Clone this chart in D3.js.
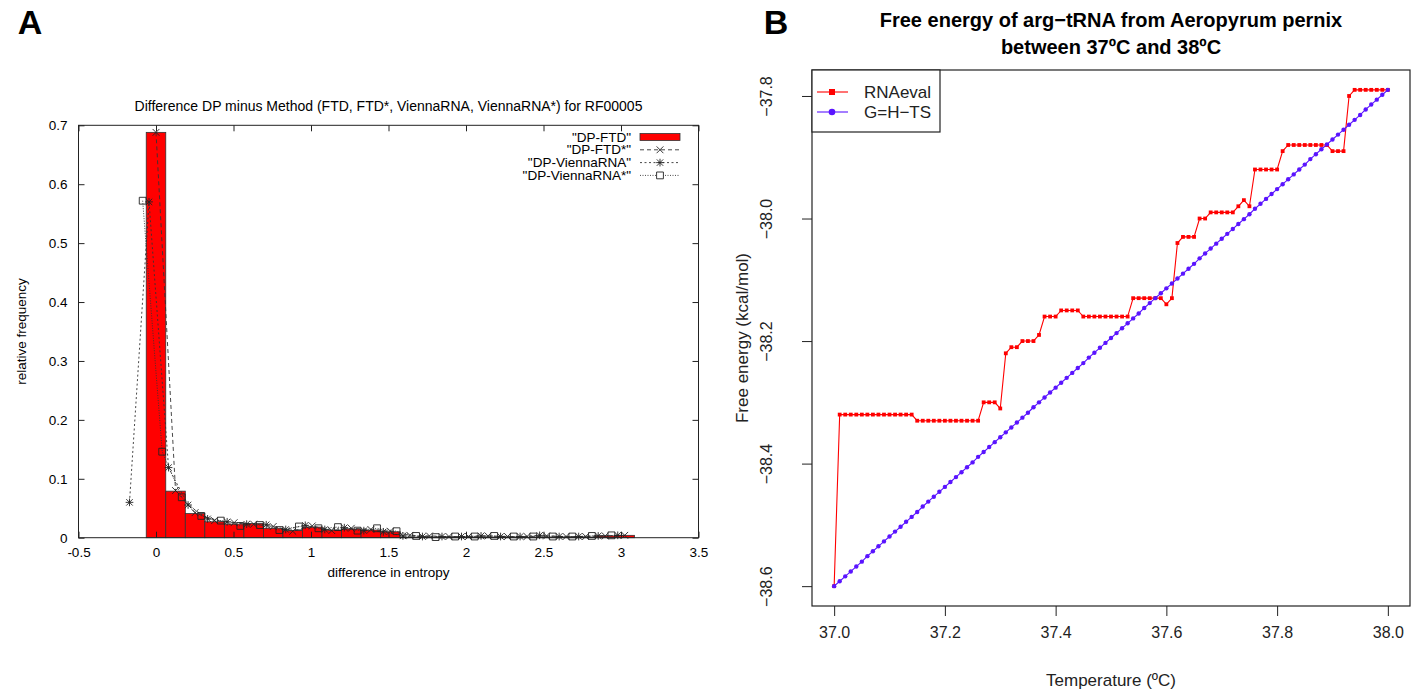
<!DOCTYPE html>
<html>
<head>
<meta charset="utf-8">
<script src="https://cdn.jsdelivr.net/npm/d3@7"></script>
<style>
  body { margin: 0; background: #fff; }
  svg { display: block; font-family: "Liberation Sans", Arial, Helvetica, sans-serif; }
</style>
</head>
<body>
<svg id="fig" width="1417" height="690"></svg>
<script>
// ---------- Panel A: entropy difference histogram (RF00005) ----------
const binWidth = 0.126;
const ftdBins = [0.000, 0.126, 0.252, 0.378, 0.504, 0.630, 0.756, 0.882, 1.008, 1.134, 1.260, 1.386, 1.512,
                 1.638, 1.764, 1.890, 2.016, 2.142, 2.268, 2.394, 2.520, 2.646, 2.772, 2.898, 3.024];
const ftdFreq = [0.688, 0.079, 0.041, 0.027, 0.023, 0.024, 0.016, 0.012, 0.018, 0.013, 0.0147, 0.013, 0.010,
                 0.001, 0.001, 0.001, 0.001, 0.001, 0.001, 0.001, 0.001, 0.001, 0.001, 0.003, 0.004];

const ftdStarX = ftdBins;
const ftdStarFreq = [0.688, 0.080, 0.0425, 0.029, 0.0255, 0.023, 0.019, 0.011, 0.020, 0.012, 0.016, 0.014, 0.011,
                     0.004, 0.003, 0.002, 0.002, 0.003, 0.002, 0.002, 0.003, 0.002, 0.002, 0.003, 0.004];

const viennaX = [-0.171, -0.045, 0.081, 0.207, 0.333, 0.459, 0.585, 0.711, 0.837, 0.963, 1.089, 1.215, 1.341,
                 1.467, 1.593, 1.719, 1.845, 1.971, 2.097, 2.223, 2.349, 2.475, 2.601, 2.727, 2.853, 2.979];
const viennaFreq = [0.060, 0.570, 0.119, 0.0555, 0.032, 0.027, 0.023, 0.022, 0.014, 0.021, 0.014, 0.017, 0.012,
                    0.010, 0.003, 0.002, 0.002, 0.002, 0.003, 0.002, 0.002, 0.004, 0.002, 0.002, 0.003, 0.004];

const viennaStarX = [-0.086, 0.040, 0.166, 0.292, 0.418, 0.544, 0.670, 0.796, 0.922, 1.048, 1.174, 1.300, 1.426,
                     1.552, 1.678, 1.804, 1.930, 2.056, 2.182, 2.308, 2.434, 2.560, 2.686, 2.812, 2.938];
const viennaStarFreq = [0.572, 0.146, 0.0686, 0.037, 0.029, 0.020, 0.0215, 0.013, 0.019, 0.016, 0.018, 0.012, 0.016,
                        0.011, 0.003, 0.001, 0.002, 0.002, 0.003, 0.002, 0.002, 0.002, 0.002, 0.003, 0.004];

const xTicksA = [-0.5, 0, 0.5, 1, 1.5, 2, 2.5, 3, 3.5];
const xTickLabelsA = ["-0.5", "0", "0.5", "1", "1.5", "2", "2.5", "3", "3.5"];
const yTicksA = [0, 0.1, 0.2, 0.3, 0.4, 0.5, 0.6, 0.7];
const yTickLabelsA = ["0", "0.1", "0.2", "0.3", "0.4", "0.5", "0.6", "0.7"];
const legendA = ["\"DP-FTD\"", "\"DP-FTD*\"", "\"DP-ViennaRNA\"", "\"DP-ViennaRNA*\""];

// ---------- Panel B: free energy of arg-tRNA, 37–38 ºC ----------
const temps = [
  37.00, 37.01, 37.02, 37.03, 37.04, 37.05, 37.06, 37.07, 37.08, 37.09,
  37.10, 37.11, 37.12, 37.13, 37.14, 37.15, 37.16, 37.17, 37.18, 37.19,
  37.20, 37.21, 37.22, 37.23, 37.24, 37.25, 37.26, 37.27, 37.28, 37.29,
  37.30, 37.31, 37.32, 37.33, 37.34, 37.35, 37.36, 37.37, 37.38, 37.39,
  37.40, 37.41, 37.42, 37.43, 37.44, 37.45, 37.46, 37.47, 37.48, 37.49,
  37.50, 37.51, 37.52, 37.53, 37.54, 37.55, 37.56, 37.57, 37.58, 37.59,
  37.60, 37.61, 37.62, 37.63, 37.64, 37.65, 37.66, 37.67, 37.68, 37.69,
  37.70, 37.71, 37.72, 37.73, 37.74, 37.75, 37.76, 37.77, 37.78, 37.79,
  37.80, 37.81, 37.82, 37.83, 37.84, 37.85, 37.86, 37.87, 37.88, 37.89,
  37.90, 37.91, 37.92, 37.93, 37.94, 37.95, 37.96, 37.97, 37.98, 37.99,
  38.00];
const rnaeval = [
  -38.60, -38.32, -38.32, -38.32, -38.32, -38.32, -38.32, -38.32, -38.32, -38.32,
  -38.32, -38.32, -38.32, -38.32, -38.32, -38.33, -38.33, -38.33, -38.33, -38.33,
  -38.33, -38.33, -38.33, -38.33, -38.33, -38.33, -38.33, -38.30, -38.30, -38.30,
  -38.31, -38.22, -38.21, -38.21, -38.20, -38.20, -38.20, -38.19, -38.16, -38.16,
  -38.16, -38.15, -38.15, -38.15, -38.15, -38.16, -38.16, -38.16, -38.16, -38.16,
  -38.16, -38.16, -38.16, -38.16, -38.13, -38.13, -38.13, -38.13, -38.13, -38.13,
  -38.14, -38.13, -38.04, -38.03, -38.03, -38.03, -38.00, -38.00, -37.99, -37.99,
  -37.99, -37.99, -37.99, -37.98, -37.97, -37.98, -37.92, -37.92, -37.92, -37.92,
  -37.92, -37.89, -37.88, -37.88, -37.88, -37.88, -37.88, -37.88, -37.88, -37.88,
  -37.89, -37.89, -37.89, -37.80, -37.79, -37.79, -37.79, -37.79, -37.79, -37.79,
  -37.79];
const gibbs = [
  -38.600, -38.592, -38.584, -38.576, -38.568, -38.560, -38.551, -38.543, -38.535, -38.527,
  -38.519, -38.511, -38.503, -38.495, -38.487, -38.479, -38.470, -38.462, -38.454, -38.446,
  -38.438, -38.430, -38.422, -38.414, -38.406, -38.398, -38.389, -38.381, -38.373, -38.365,
  -38.357, -38.349, -38.341, -38.333, -38.325, -38.317, -38.308, -38.300, -38.292, -38.284,
  -38.276, -38.268, -38.260, -38.252, -38.244, -38.236, -38.227, -38.219, -38.211, -38.203,
  -38.195, -38.187, -38.179, -38.171, -38.163, -38.155, -38.146, -38.138, -38.130, -38.122,
  -38.114, -38.106, -38.098, -38.090, -38.082, -38.074, -38.065, -38.057, -38.049, -38.041,
  -38.033, -38.025, -38.017, -38.009, -38.001, -37.993, -37.984, -37.976, -37.968, -37.960,
  -37.952, -37.944, -37.936, -37.928, -37.920, -37.912, -37.903, -37.895, -37.887, -37.879,
  -37.871, -37.863, -37.855, -37.847, -37.839, -37.831, -37.822, -37.814, -37.806, -37.798,
  -37.790];
const xTicksB = [37.0, 37.2, 37.4, 37.6, 37.8, 38.0];
const yTicksB = [-38.6, -38.4, -38.2, -38.0, -37.8];

const svg = d3.select("#fig");
svg.append("rect").attr("width", 1417).attr("height", 690).attr("fill", "#fff");

// panel letters
svg.append("text").attr("x", 30).attr("y", 34).attr("text-anchor", "middle")
  .attr("font-size", 34).attr("font-weight", "bold").text("A");
svg.append("text").attr("x", 776).attr("y", 34).attr("text-anchor", "middle")
  .attr("font-size", 34).attr("font-weight", "bold").text("B");

// ===== Panel A =====
const xA = d3.scaleLinear().domain([-0.5, 3.5]).range([78.5, 698.5]);
const yA = d3.scaleLinear().domain([0, 0.7]).range([537.7, 125.3]);
const fsA = 13.5;
const gA = svg.append("g").attr("font-size", fsA);
const axisColor = "#222";

gA.append("text").attr("x", (78.5 + 698.5) / 2).attr("y", 111).attr("text-anchor", "middle")
  .attr("font-size", 14).text("Difference DP minus Method (FTD, FTD*, ViennaRNA, ViennaRNA*) for RF00005");

// bars
gA.append("g").selectAll("rect").data(ftdBins).join("rect")
  .attr("x", d => xA(d - binWidth / 2))
  .attr("width", xA(binWidth) - xA(0))
  .attr("y", (d, i) => yA(ftdFreq[i]))
  .attr("height", (d, i) => yA(0) - yA(ftdFreq[i]))
  .attr("fill", "#ff0000").attr("stroke", "#333").attr("stroke-width", 0.8);

// point markers in gnuplot style
function markerPath(type, s) {
  if (type === "x") return `M${-s},${-s}L${s},${s}M${-s},${s}L${s},${-s}`;
  if (type === "star") return `M${-s},${-s}L${s},${s}M${-s},${s}L${s},${-s}M${-s * 1.2},0L${s * 1.2},0M0,${-s * 1.2}L0,${s * 1.2}`;
  return `M${-s},${-s}H${s}V${s}H${-s}Z`;
}

const seriesA = [
  { xs: ftdStarX, ys: ftdStarFreq, dash: "4,3", marker: "x", size: 3.4 },
  { xs: viennaX, ys: viennaFreq, dash: "2,2.5", marker: "star", size: 3.2 },
  { xs: viennaStarX, ys: viennaStarFreq, dash: "1,1.5", marker: "sq", size: 3.4 }
];
const lineA = d3.line().x(d => xA(d[0])).y(d => yA(d[1]));
seriesA.forEach(s => {
  const pts = s.xs.map((x, i) => [x, s.ys[i]]);
  gA.append("path").datum(pts).attr("d", lineA)
    .attr("fill", "none").attr("stroke", "#333").attr("stroke-width", 0.9)
    .attr("stroke-dasharray", s.dash);
  gA.append("g").selectAll("path").data(pts).join("path")
    .attr("transform", d => `translate(${xA(d[0])},${yA(d[1])})`)
    .attr("d", markerPath(s.marker, s.size))
    .attr("fill", "none").attr("stroke", "#222").attr("stroke-width", 0.9);
});

// axes with inward ticks on all four sides
const axBottomA = gA.append("g").attr("transform", `translate(0,${yA(0)})`)
  .call(d3.axisBottom(xA).tickValues(xTicksA).tickSize(-6).tickPadding(10)
    .tickFormat((d, i) => xTickLabelsA[i]));
const axTopA = gA.append("g").attr("transform", `translate(0,${yA(0.7)})`)
  .call(d3.axisTop(xA).tickValues(xTicksA).tickSize(-6).tickFormat(""));
const axLeftA = gA.append("g").attr("transform", `translate(${xA(-0.5)},0)`)
  .call(d3.axisLeft(yA).tickValues(yTicksA).tickSize(-6).tickPadding(11)
    .tickFormat((d, i) => yTickLabelsA[i]));
const axRightA = gA.append("g").attr("transform", `translate(${xA(3.5)},0)`)
  .call(d3.axisRight(yA).tickValues(yTicksA).tickSize(-6).tickFormat(""));
[axBottomA, axTopA, axLeftA, axRightA].forEach(a => {
  a.attr("font-size", fsA).attr("font-family", null);
  a.select(".domain").remove();
  a.selectAll("line").attr("stroke", axisColor);
  a.selectAll("text").attr("fill", "#000");
});
gA.append("rect").attr("x", xA(-0.5)).attr("y", yA(0.7))
  .attr("width", xA(3.5) - xA(-0.5)).attr("height", yA(0) - yA(0.7))
  .attr("fill", "none").attr("stroke", axisColor).attr("stroke-width", 1);

gA.append("text").attr("transform", `translate(26,${(yA(0) + yA(0.7)) / 2}) rotate(-90)`)
  .attr("text-anchor", "middle").text("relative frequency");
gA.append("text").attr("x", (xA(-0.5) + xA(3.5)) / 2).attr("y", 577)
  .attr("text-anchor", "middle").text("difference in entropy");

// legend
const legA = gA.append("g");
legendA.forEach((lbl, i) => {
  const y = 137 + i * 12.8;
  legA.append("text").attr("x", 631).attr("y", y + 4.6).attr("text-anchor", "end").text(lbl);
  if (i === 0) {
    legA.append("rect").attr("x", 640).attr("y", y - 3.5).attr("width", 40).attr("height", 7)
      .attr("fill", "#ff0000").attr("stroke", "#333").attr("stroke-width", 0.8);
  } else {
    const s = seriesA[i - 1];
    legA.append("line").attr("x1", 640).attr("x2", 680).attr("y1", y).attr("y2", y)
      .attr("stroke", "#333").attr("stroke-width", 0.9).attr("stroke-dasharray", s.dash);
    legA.append("path").attr("transform", `translate(660,${y})`)
      .attr("d", markerPath(s.marker, s.size))
      .attr("fill", "#fff").attr("stroke", "#222").attr("stroke-width", 0.9);
  }
});

// ===== Panel B =====
const xB = d3.scaleLinear().domain([36.96, 38.04]).range([812, 1410]);
const yB = d3.scaleLinear().domain([-38.6324, -37.7576]).range([606, 70]);
const gB = svg.append("g");
const red = "#ff0000", violet = "#5a14ff";

gB.append("text").attr("x", (812 + 1410) / 2).attr("y", 27).attr("text-anchor", "middle")
  .attr("font-size", 20).attr("font-weight", "bold").text("Free energy of arg\u2212tRNA from Aeropyrum pernix");
gB.append("text").attr("x", (812 + 1410) / 2).attr("y", 54).attr("text-anchor", "middle")
  .attr("font-size", 20).attr("font-weight", "bold").text("between 37ºC and 38ºC");

const lineB = d3.line().x(d => xB(d[0])).y(d => yB(d[1]));
const rnaPts = temps.map((t, i) => [t, rnaeval[i]]);
const gPts = temps.map((t, i) => [t, gibbs[i]]);

gB.append("path").datum(rnaPts).attr("d", lineB).attr("fill", "none")
  .attr("stroke", red).attr("stroke-width", 1.1);
gB.append("g").selectAll("rect").data(rnaPts).join("rect")
  .attr("x", d => xB(d[0]) - 1.9).attr("y", d => yB(d[1]) - 1.9)
  .attr("width", 3.8).attr("height", 3.8).attr("fill", red);

gB.append("path").datum(gPts).attr("d", lineB).attr("fill", "none")
  .attr("stroke", violet).attr("stroke-width", 1.1);
gB.append("g").selectAll("circle").data(gPts).join("circle")
  .attr("cx", d => xB(d[0])).attr("cy", d => yB(d[1])).attr("r", 2.2).attr("fill", violet);

// axes (R style: outward ticks, rotated y labels)
const axXB = gB.append("g").attr("transform", "translate(0,606)")
  .call(d3.axisBottom(xB).tickValues(xTicksB).tickSize(10).tickPadding(11).tickFormat(d3.format(".1f")));
const axYB = gB.append("g").attr("transform", "translate(812,0)")
  .call(d3.axisLeft(yB).tickValues(yTicksB).tickSize(10).tickFormat(d3.format(".1f")));
[axXB, axYB].forEach(a => {
  a.attr("font-size", 16).attr("font-family", null);
  a.select(".domain").remove();
  a.selectAll("line").attr("stroke", "#222");
  a.selectAll("text").attr("fill", "#222");
});
axXB.selectAll("text").attr("dy", "0.71em");
axYB.selectAll("text").attr("transform", "rotate(-90)").attr("x", 0).attr("y", -40)
  .attr("dy", 0).attr("text-anchor", "middle");
gB.append("rect").attr("x", 812).attr("y", 70).attr("width", 598).attr("height", 536)
  .attr("fill", "none").attr("stroke", "#222").attr("stroke-width", 1.2);

gB.append("text").attr("x", 1111).attr("y", 686).attr("text-anchor", "middle")
  .attr("font-size", 17).attr("fill", "#222").text("Temperature (ºC)");
gB.append("text").attr("transform", `translate(748,${(70 + 606) / 2}) rotate(-90)`)
  .attr("text-anchor", "middle").attr("font-size", 17).attr("fill", "#222").text("Free energy (kcal/mol)");

// legend box
const legB = gB.append("g");
legB.append("rect").attr("x", 812).attr("y", 70).attr("width", 128).attr("height", 62)
  .attr("fill", "#fff").attr("stroke", "#222").attr("stroke-width", 1.2);
[["RNAeval", red, "sq", 92], ["G=H\u2212TS", violet, "circ", 112]].forEach(([lbl, col, mk, y]) => {
  legB.append("line").attr("x1", 817).attr("x2", 848).attr("y1", y).attr("y2", y)
    .attr("stroke", col).attr("stroke-width", 1.1);
  if (mk === "sq") legB.append("rect").attr("x", 829).attr("y", y - 3).attr("width", 6).attr("height", 6).attr("fill", col);
  else legB.append("circle").attr("cx", 832).attr("cy", y).attr("r", 3.3).attr("fill", col);
  legB.append("text").attr("x", 864).attr("y", y + 6).attr("font-size", 17).attr("fill", "#222").text(lbl);
});
</script>
</body>
</html>
